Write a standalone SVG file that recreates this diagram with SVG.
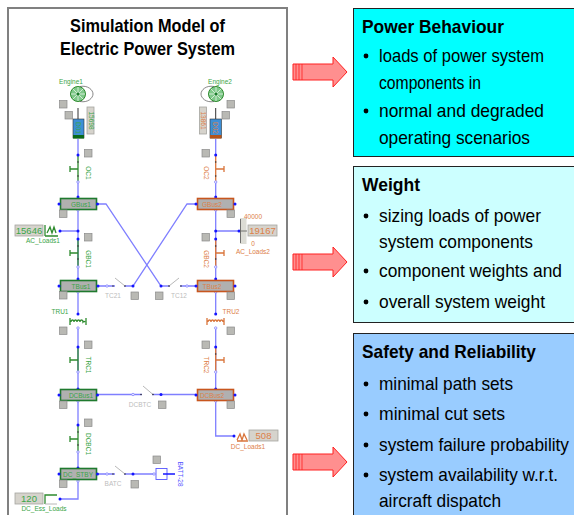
<svg xmlns="http://www.w3.org/2000/svg" width="574" height="515" viewBox="0 0 574 515">
<style>
text{font-family:"Liberation Sans",Arial,sans-serif}
.frame{fill:#fff;stroke:#808080;stroke-width:2}
.title{font-size:18.5px;font-weight:bold;fill:#000}
.ph{font-size:18.5px;font-weight:bold;fill:#000}
.pt{font-size:18.5px;fill:#000}
.panel{stroke:#222;stroke-width:1}
.g{fill:#3aa548}.o{fill:#dd8048}.s{fill:#bcbcbc}.b{fill:#5555ff}
.lbl{font-size:6.5px}
.mid{text-anchor:middle}
.bl{fill:none;stroke:#7f7fff;stroke-width:1.3}
.gl{fill:none;stroke:#2e8b2e;stroke-width:1.3}
.ol{fill:none;stroke:#d9743a;stroke-width:1.3}
.gy{fill:none;stroke:#b8b8b8;stroke-width:1}
.sq{fill:#b9b9b4;stroke:#8a8a8a;stroke-width:.7}
.val{fill:#d6d3cc;stroke:#a5a5a0;stroke-width:.8}
.bus{fill:#b0b0b0;stroke-width:1.6}
.dot{fill:#1414ff}
.od{fill:#fff;stroke:#7f7fff;stroke-width:.8}
.bk{fill:#333}
.vt{font-size:9.5px}
.arr{fill:#ff8f8f;stroke:#ff2020;stroke-width:1}
.bu{fill:#000}
</style>
<defs>
<rect id="sq" class="sq" width="7.5" height="7.5"/>
<circle id="dt" class="dot" r="1.5"/>
<circle id="od" class="od" r="1.2"/>
<circle id="bd" class="bk" r=".8"/>
<g id="arrow">
<path class="arr" d="M293 -8H333V-15L347 0L333 15V8H293Z"/>
<path fill="none" stroke="#ff2020" stroke-width=".8" d="M296 -8V8M299 -8V8M302 -8V8"/>
</g>
<g id="wheel">
<circle r="7.5" fill="#7fc98a" stroke="#2e8b2e" stroke-width="1"/>
<path stroke="#e8f5e8" stroke-width=".8" d="M-7 0H7M0 -7V7M-5 -5L5 5M-5 5L5 -5"/>
<circle r="1.5" fill="#1a7a2a"/>
</g>
</defs>

<g id="model-frame">
<path class="frame" d="M8 515V8H287V515"/>
<text class="title" x="70" y="32" textLength="155" lengthAdjust="spacingAndGlyphs">Simulation Model of</text>
<text class="title" x="60" y="55" textLength="175" lengthAdjust="spacingAndGlyphs">Electric Power System</text>
</g>

<g id="connectors">
<path class="bl" d="M78 139V155M78 182V198M78 210V280M60 231H78M78 291V314M78 328V389M78 400V425M78 452V468M78 481V499H60"/>
<path class="gl" d="M78 155V182M78 239V267M78 347V372M78 425V452"/>
<path class="bl" d="M215.700 139V155M215.700 182V198M215.700 210V280M215.700 231H239M215.700 291V314M215.700 328V389M215.700 400V436H234"/>
<path class="ol" d="M215.700 155V182M215.700 239V267M215.700 347V372"/>
<path class="bl" d="M97 204H106L161 286H196M196 204H187L133 286H98M97 394.500H196M97 474H153"/>
<path stroke="#333" stroke-width="1" d="M78 108V119M215.700 108V119" fill="none"/>
<g fill="#fff" stroke="none"><rect x="115" y="283" width="9" height="5"/><rect x="170" y="283" width="10" height="5"/><rect x="142" y="392" width="10" height="5"/><rect x="115" y="471" width="9" height="5"/></g>
<path class="gy" d="M125 286L115 278M169 286L179 278M153 394.500L143 386M125 474L115 466"/>
<g>
<use href="#dt" x="78" y="155"/><use href="#dt" x="78" y="197"/><use href="#dt" x="60" y="231"/><use href="#dt" x="78" y="231"/><use href="#dt" x="78" y="239"/><use href="#dt" x="78" y="279"/><use href="#dt" x="78" y="314"/><use href="#dt" x="78" y="347"/><use href="#dt" x="78" y="389"/><use href="#dt" x="78" y="425"/><use href="#dt" x="78" y="468"/><use href="#dt" x="60" y="499"/>
<use href="#dt" x="215.700" y="155"/><use href="#dt" x="215.700" y="197"/><use href="#dt" x="215.700" y="231"/><use href="#dt" x="239" y="231"/><use href="#dt" x="215.700" y="239"/><use href="#dt" x="215.700" y="279"/><use href="#dt" x="215.700" y="314"/><use href="#dt" x="215.700" y="347"/><use href="#dt" x="215.700" y="389"/><use href="#dt" x="234" y="436"/>
<use href="#dt" x="133" y="286"/><use href="#dt" x="161" y="286"/><use href="#dt" x="161" y="394.500"/><use href="#dt" x="133" y="474"/>
<use href="#od" x="78" y="182"/><use href="#od" x="78" y="267"/><use href="#od" x="78" y="328"/><use href="#od" x="78" y="372"/><use href="#od" x="78" y="401"/><use href="#od" x="78" y="452"/><use href="#od" x="78" y="481"/><use href="#od" x="78" y="210"/><use href="#od" x="78" y="292"/>
<use href="#od" x="215.700" y="182"/><use href="#od" x="215.700" y="267"/><use href="#od" x="215.700" y="328"/><use href="#od" x="215.700" y="372"/><use href="#od" x="215.700" y="401"/><use href="#od" x="215.700" y="210"/><use href="#od" x="215.700" y="292"/>
<use href="#od" x="107" y="286"/><use href="#od" x="187" y="286"/><use href="#od" x="133" y="394.500"/><use href="#od" x="107" y="474"/><use href="#od" x="154" y="474"/>
<use href="#bd" x="113" y="286"/><use href="#bd" x="125" y="286"/><use href="#bd" x="181" y="286"/><use href="#bd" x="169" y="286"/><use href="#bd" x="141" y="394.500"/><use href="#bd" x="153" y="394.500"/><use href="#bd" x="113" y="474"/><use href="#bd" x="125" y="474"/>
<use href="#bd" x="78" y="162"/><use href="#bd" x="78" y="176"/><use href="#bd" x="78" y="246"/><use href="#bd" x="78" y="259"/><use href="#bd" x="78" y="432"/><use href="#bd" x="78" y="445"/><use href="#bd" x="215.700" y="162"/><use href="#bd" x="215.700" y="176"/><use href="#bd" x="215.700" y="246"/><use href="#bd" x="215.700" y="259"/><use href="#bd" x="215.700" y="354"/>
</g>
</g>

<g id="Engine1">
<use href="#wheel" x="78" y="94"/><path fill="none" stroke="#555" stroke-width=".7" d="M80 86.500C88 85 93 90 93 94C93 98 88 103 80 101.500"/>
<text class="lbl g mid" x="71" y="84">Engine1</text>
<use href="#sq" x="59.500" y="100.500"/><use href="#sq" x="65" y="111.500"/>
</g>
<g id="Engine2">
<use href="#wheel" x="216" y="94"/><path fill="none" stroke="#555" stroke-width=".7" d="M214 86.500C206 85 201 90 201 94C201 98 206 103 214 101.500"/>
<text class="lbl g mid" x="220" y="84">Engine2</text>
<use href="#sq" x="227" y="100.500"/><use href="#sq" x="222" y="111.500"/>
</g>
<g id="D01">
<rect x="73" y="119" width="11" height="19" fill="#3d8fd6" stroke="#333" stroke-width=".6"/><rect x="73" y="135" width="11" height="3.500" fill="#0a6a1a"/>
<text class="lbl g mid" transform="translate(76 128) rotate(90)">D01</text>
<rect class="val" x="87" y="107" width="7" height="27"/><text class="lbl g mid" transform="translate(88.500 120.500) rotate(90)">15698</text>
<use href="#sq" x="84.500" y="149.500"/>
</g>
<g id="D02">
<rect x="210" y="119" width="11.500" height="19" fill="#3d8fd6" stroke="#333" stroke-width=".6"/><rect x="210" y="135" width="11.500" height="3.500" fill="#b4541a"/>
<text class="lbl o mid" transform="translate(213 128) rotate(90)">D02</text>
<rect class="val" x="199.500" y="107" width="7" height="27"/><text class="lbl o mid" transform="translate(201 120.500) rotate(90)">13861</text>
<use href="#sq" x="202" y="149.500"/>
</g>
<g id="OC1"><path class="gl" d="M70 166V172M70 169H78"/><text class="lbl g mid" transform="translate(86 173) rotate(90)">OC1</text></g>
<g id="OC2"><path class="ol" d="M224 166V172M216 169H224"/><text class="lbl o mid" transform="translate(204 173) rotate(90)">OC2</text></g>
<g id="GBC1"><path class="gl" d="M70 250V256M70 253H78"/><text class="lbl g mid" transform="translate(86 259) rotate(90)">GBC1</text></g>
<g id="GBC2"><path class="ol" d="M224 250V256M216 253H224"/><text class="lbl o mid" transform="translate(204 259) rotate(90)">GBC2</text></g>
<g id="TRC1"><path class="gl" d="M70 357V363M70 360H78"/><text class="lbl g mid" transform="translate(86 365) rotate(90)">TRC1</text></g>
<g id="TRC2"><path class="ol" d="M224 357V363M216 360H224"/><text class="lbl o mid" transform="translate(204 365) rotate(90)">TRC2</text></g>
<g id="DCBC1"><path class="gl" d="M70 436V442M70 439H78"/><text class="lbl g mid" transform="translate(86 444) rotate(90)">DCBC1</text></g>
<g id="GBus1"><rect class="bus" stroke="#1f7a2e" x="60.500" y="198.500" width="36" height="11"/><text class="lbl g mid" x="81" y="206.500">GBus1</text><use href="#dt" x="59" y="204"/><use href="#dt" x="97.500" y="204"/><use href="#sq" x="59.500" y="210"/></g>
<g id="GBus2"><rect class="bus" stroke="#c8561e" x="197.500" y="198.500" width="36" height="11"/><text class="lbl o mid" x="212" y="206.500">GBus2</text><use href="#dt" x="196" y="204"/><use href="#dt" x="235" y="204"/><use href="#sq" x="227" y="210"/></g>
<g id="TBus1"><rect class="bus" stroke="#1f7a2e" x="60.500" y="280.500" width="36" height="11"/><text class="lbl g mid" x="81" y="288.500">TBus1</text><use href="#dt" x="59" y="286"/><use href="#dt" x="98" y="286"/><use href="#sq" x="59.500" y="291.500"/><use href="#sq" x="84.500" y="233.500"/><use href="#sq" x="202" y="233.500"/></g>
<g id="TBus2"><rect class="bus" stroke="#c8561e" x="197.500" y="280.500" width="36" height="11"/><text class="lbl o mid" x="212" y="288.500">TBus2</text><use href="#dt" x="196" y="286"/><use href="#dt" x="235" y="286"/><use href="#sq" x="227" y="292"/></g>
<g id="TC21"><text class="lbl s mid" x="113" y="297.500">TC21</text><use href="#sq" x="131" y="292"/></g>
<g id="TC12"><text class="lbl s mid" x="179" y="297.500">TC12</text><use href="#sq" x="155.500" y="292"/></g>
<g id="TRU1"><text class="lbl g mid" x="60" y="314">TRU1</text><path class="gl" stroke-width="1" d="M70 318V325M86 318V325M71 322a1.500 2 0 0 1 3 0a1.500 2 0 0 1 3 0a1.500 2 0 0 1 3 0a1.500 2 0 0 1 3 0a1.500 2 0 0 1 2 0"/><use href="#sq" x="59.500" y="327"/><use href="#sq" x="84.500" y="341"/></g>
<g id="TRU2"><text class="lbl o mid" x="231" y="314">TRU2</text><path class="ol" stroke-width="1" d="M207 318V325M224 318V325M208 322a1.500 2 0 0 1 3 0a1.500 2 0 0 1 3 0a1.500 2 0 0 1 3 0a1.500 2 0 0 1 3 0a1.500 2 0 0 1 3 0"/><use href="#sq" x="227" y="327"/><use href="#sq" x="202" y="341"/></g>
<g id="DCBus1"><rect class="bus" stroke="#1f7a2e" x="60.500" y="389.500" width="36" height="11"/><text class="lbl g mid" x="81" y="397.500">DCBus1</text><use href="#dt" x="59" y="395"/><use href="#dt" x="97.500" y="395"/><use href="#sq" x="59.500" y="401"/><use href="#sq" x="84.500" y="419"/></g>
<g id="DCBus2"><rect class="bus" stroke="#c8561e" x="197.500" y="389.500" width="36" height="11"/><text class="lbl o mid" x="212" y="397.500">DCBus2</text><use href="#dt" x="196" y="395"/><use href="#dt" x="235" y="395"/><use href="#sq" x="227" y="401"/></g>
<g id="DCBTC"><text class="lbl s mid" x="140" y="406.500">DCBTC</text><use href="#sq" x="158.500" y="401"/></g>
<g id="DC_STBY"><rect class="bus" stroke="#1f7a2e" x="60.500" y="468.500" width="36" height="11"/><text class="lbl g mid" x="78" y="476.500">DC_STBY</text><use href="#dt" x="59" y="474"/><use href="#dt" x="97.500" y="474"/><use href="#sq" x="59.500" y="480"/></g>
<g id="BATC"><text class="lbl s mid" x="113" y="485.500">BATC</text><use href="#sq" x="131" y="480.500"/></g>
<g id="BATT-28"><rect x="156" y="468.500" width="11" height="11" fill="#fff" stroke="#5555ff" stroke-width=".9"/><path stroke="#1414ff" stroke-width="1.500" d="M163 474H175"/><text class="lbl b mid" transform="translate(178 474) rotate(90)">BATT-28</text><use href="#sq" x="153" y="456"/></g>
<g id="AC_Loads1"><rect class="val" x="15" y="225" width="28" height="11"/><text class="vt g mid" x="29" y="234">15646</text><path class="gl" d="M45 225V236M45 236H58M47 233L50 227L52 233L54 227L56 233"/><text class="lbl g mid" x="43" y="243">AC_Loads1</text></g>
<g id="AC_Loads2"><rect x="240" y="218" width="6.500" height="26" fill="#dcdcd5"/><path stroke="#555" stroke-width=".8" d="M240.500 219V243M240.500 231H247"/><text class="lbl o mid" x="253" y="219">40000</text><rect class="val" x="248" y="225" width="29" height="11"/><text class="vt o mid" x="262.500" y="234">19167</text><text class="lbl o mid" x="253" y="246">0</text><text class="lbl o mid" x="253" y="254">AC_Loads2</text></g>
<g id="DC_Loads1"><path class="ol" d="M237 441H248M237 440L240 434L242 440L244 434L247 440"/><rect class="val" x="249" y="430" width="29" height="11"/><text class="vt o mid" x="263.500" y="439">508</text><text class="lbl o mid" x="248" y="449">DC_Loads1</text></g>
<g id="DC_Ess_Loads"><rect class="val" x="15" y="493" width="28" height="11"/><text class="vt g mid" x="29" y="502">120</text><path class="gl" d="M57 495H45V504"/><path class="gy" d="M45 504H57"/><text class="lbl g mid" x="44" y="511">DC_Ess_Loads</text></g>

<g id="arrows">
<use href="#arrow" y="72"/><use href="#arrow" y="262"/><use href="#arrow" y="462"/>
</g>

<g id="panel-power">
<rect class="panel" x="353.500" y="8.500" width="222" height="148" fill="#00ffff"/>
<text class="ph" x="362" y="33" textLength="142" lengthAdjust="spacingAndGlyphs">Power Behaviour</text>
<circle class="bu" cx="366" cy="56" r="2.400"/><text class="pt" x="379" y="62" textLength="165" lengthAdjust="spacingAndGlyphs">loads of power system</text>
<text class="pt" x="379" y="89" textLength="102" lengthAdjust="spacingAndGlyphs">components in</text>
<circle class="bu" cx="366" cy="111" r="2.400"/><text class="pt" x="379" y="117" textLength="165" lengthAdjust="spacingAndGlyphs">normal and degraded</text>
<text class="pt" x="379" y="144" textLength="151" lengthAdjust="spacingAndGlyphs">operating scenarios</text>
</g>
<g id="panel-weight">
<rect class="panel" x="353.500" y="166.500" width="222" height="156" fill="#ccffff"/>
<text class="ph" x="362" y="191" textLength="58" lengthAdjust="spacingAndGlyphs">Weight</text>
<circle class="bu" cx="366" cy="216" r="2.400"/><text class="pt" x="379" y="222" textLength="162" lengthAdjust="spacingAndGlyphs">sizing loads of power</text>
<text class="pt" x="379" y="248" textLength="154" lengthAdjust="spacingAndGlyphs">system components</text>
<circle class="bu" cx="366" cy="271" r="2.400"/><text class="pt" x="379" y="277" textLength="183" lengthAdjust="spacingAndGlyphs">component weights and</text>
<circle class="bu" cx="366" cy="302" r="2.400"/><text class="pt" x="379" y="308" textLength="166" lengthAdjust="spacingAndGlyphs">overall system weight</text>
</g>
<g id="panel-safety">
<rect class="panel" x="353.500" y="333.500" width="222" height="183" fill="#99ccff"/>
<text class="ph" x="362" y="358" textLength="174" lengthAdjust="spacingAndGlyphs">Safety and Reliability</text>
<circle class="bu" cx="366" cy="384" r="2.400"/><text class="pt" x="379" y="390" textLength="134" lengthAdjust="spacingAndGlyphs">minimal path sets</text>
<circle class="bu" cx="366" cy="414" r="2.400"/><text class="pt" x="379" y="420" textLength="126" lengthAdjust="spacingAndGlyphs">minimal cut sets</text>
<circle class="bu" cx="366" cy="445" r="2.400"/><text class="pt" x="379" y="451" textLength="190" lengthAdjust="spacingAndGlyphs">system failure probability</text>
<circle class="bu" cx="366" cy="475" r="2.400"/><text class="pt" x="379" y="481" textLength="179" lengthAdjust="spacingAndGlyphs">system availability w.r.t.</text>
<text class="pt" x="379" y="507" textLength="122" lengthAdjust="spacingAndGlyphs">aircraft dispatch</text>
</g>
</svg>
